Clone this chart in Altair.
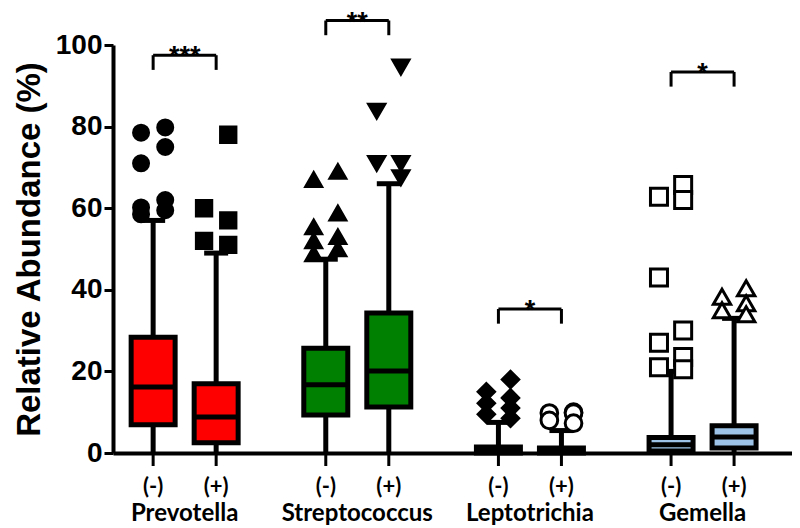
import altair as alt
import pandas as pd

# ---------------- data ----------------
genera = ["Prevotella", "Streptococcus", "Leptotrichia", "Gemella"]
statuses = ["(-)", "(+)"]

# box order: Prevotella(-), Prevotella(+), Streptococcus(-), Streptococcus(+),
#            Leptotrichia(-), Leptotrichia(+), Gemella(-), Gemella(+)
box_q1 = [6.9, 2.5, 9.3, 11.3, 0.0, 0.0, 0.5, 1.2]
box_median = [16.2, 8.8, 16.7, 20.1, 0.3, 0.2, 2.0, 3.9]
box_q3 = [28.4, 17.0, 25.7, 34.3, 1.5, 1.2, 3.8, 6.7]
whisker_low = [0.0, 0.0, 0.0, 0.0, 0.0, 0.0, 0.0, 0.0]
whisker_high = [57.0, 49.0, 47.5, 66.0, 7.5, 5.5, 20.0, 33.0]

out_prevotella_neg = [79.8, 78.5, 75.0, 71.0, 62.0, 60.2, 59.5, 58.5]
out_prevotella_pos = [78.0, 60.0, 57.0, 52.0, 51.0]
out_streptococcus_neg = [69.0, 67.0, 58.8, 55.4, 53.0, 52.0, 50.0, 48.8]
out_streptococcus_pos = [94.6, 83.8, 71.0, 71.0, 67.5]
out_leptotrichia_neg = [18.0, 15.0, 13.5, 12.2, 11.0, 9.5, 8.5]
out_leptotrichia_pos = [10.0, 9.8, 9.8, 8.0, 7.3]
out_gemella_neg = [65.7, 62.8, 62.0, 43.0, 30.0, 27.0, 23.5, 21.0, 20.5]
out_gemella_pos = [40.4, 38.3, 36.7, 35.0, 34.0]

sig_labels = ["***", "**", "*", "*"]
sig_height = [97.5, 106.0, 35.3, 93.4]

# ---------------- styles / layout constants ----------------
genus_colors = ["#FF0000", "#008000", "#000000", "#9DC3E6"]
SUB = 0.1825      # half distance between (-) and (+) boxes, in group units
HALF = 0.1274     # half box width
CAP = 0.0695      # half whisker-cap width
JIT = 0.07        # horizontal spread of outliers
LEG = 3.6         # bracket leg length (y units)

grp_ids = [f"{g} {s}" for g in genera for s in statuses]
grp_shapes = ["circle", "square", "triangle-up", "triangle-down",
              "diamond", "circle", "square", "triangle-up"]
grp_fills = ["black", "black", "black", "black", "black", "white", "white", "white"]
grp_sizes = [225, 300, 330, 330, 340, 175, 300, 330]

# ---------------- tables ----------------
rows = []
for i, gid in enumerate(grp_ids):
    g, s = genera[i // 2], statuses[i % 2]
    gi = i // 2
    side = -1 if s == "(-)" else 1
    xc = gi + side * SUB
    rows.append(dict(genus=g, status=s, grp=gid, xc=xc,
                     xl=xc - HALF, xr=xc + HALF, cl=xc - CAP, cr=xc + CAP,
                     q1=box_q1[i], median=box_median[i], q3=box_q3[i],
                     lo=whisker_low[i], hi=whisker_high[i]))
boxes = pd.DataFrame(rows)

out_lists = [out_prevotella_neg, out_prevotella_pos, out_streptococcus_neg,
             out_streptococcus_pos, out_leptotrichia_neg, out_leptotrichia_pos,
             out_gemella_neg, out_gemella_pos]
orows = []
for i, vals in enumerate(out_lists):
    xc = boxes.loc[i, "xc"]
    for k, v in enumerate(sorted(vals, reverse=True)):
        orows.append(dict(grp=grp_ids[i], value=v,
                          xo=xc + (JIT if k % 2 == 0 else -JIT)))
outliers = pd.DataFrame(orows)

brows = []
for gi, g in enumerate(genera):
    brows.append(dict(genus=g, gx=gi, xm=gi - SUB, xp=gi + SUB,
                      top=sig_height[gi], leg=sig_height[gi] - LEG,
                      label=sig_labels[gi]))
brackets = pd.DataFrame(brows)

# ---------------- scales / axes ----------------
xscale = alt.Scale(domain=[-0.415, 3.518], nice=False, zero=False)
yscale = alt.Scale(domain=[0, 100], nice=False)
xaxis = alt.Axis(labels=False, ticks=False, title=None, domainWidth=4,
                 domainColor="black", grid=False)
yaxis = alt.Axis(values=[0, 20, 40, 60, 80, 100], title="Relative Abundance (%)",
                 labelFont="Liberation Sans", labelFontWeight="bold",
                 labelFontSize=28, labelColor="black", labelPadding=2,
                 tickSize=9, tickWidth=3, tickColor="black",
                 domainWidth=4, domainColor="black", grid=False,
                 titleFont="Liberation Sans", titleFontSize=33,
                 titleFontWeight="bold", titleColor="black", titlePadding=9)


def X(field):
    return alt.X(field, type="quantitative", scale=xscale, axis=xaxis)


def Y(field):
    return alt.Y(field, type="quantitative", scale=yscale, axis=yaxis)


bb = alt.Chart(boxes)

whiskers = bb.mark_rule(color="black", strokeWidth=5).encode(
    x=X("xc"), y=Y("lo"), y2="hi")
caps = bb.mark_rule(color="black", strokeWidth=5).encode(
    x=X("cl"), x2="cr", y=Y("hi"))
rects = bb.mark_rect(stroke="black", strokeWidth=5).encode(
    x=X("xl"), x2="xr", y=Y("q1"), y2="q3",
    fill=alt.Fill("genus:N", scale=alt.Scale(domain=genera, range=genus_colors),
                  legend=None))
medians = bb.mark_rule(color="black", strokeWidth=5).encode(
    x=X("xl"), x2="xr", y=Y("median"))
xticks = bb.mark_rule(color="black", strokeWidth=3).encode(
    x=X("xc"), y=alt.value(408), y2=alt.value(421))
status_text = bb.mark_text(font="Lato", fontWeight="bold", fontSize=22,
                           baseline="middle", color="black").encode(
    x=X("xc"), y=alt.value(442), text="status:N")

points = alt.Chart(outliers).mark_point(filled=True, strokeWidth=3, opacity=1).encode(
    x=X("xo"), y=Y("value"),
    shape=alt.Shape("grp:N", scale=alt.Scale(domain=grp_ids, range=grp_shapes), legend=None),
    fill=alt.Fill("grp:N", scale=alt.Scale(domain=grp_ids, range=grp_fills), legend=None),
    size=alt.Size("grp:N", scale=alt.Scale(domain=grp_ids, range=grp_sizes), legend=None),
    stroke=alt.value("black"))

br = alt.Chart(brackets)
genus_text = br.mark_text(font="Lato", fontWeight="bold", fontSize=24,
                          baseline="alphabetic", color="black").encode(
    x=X("gx"), y=alt.value(476), text="genus:N")
br_top = br.mark_rule(color="black", strokeWidth=3).encode(
    x=X("xm"), x2="xp", y=Y("top"))
br_left = br.mark_rule(color="black", strokeWidth=3).encode(
    x=X("xm"), y=Y("top"), y2="leg")
br_right = br.mark_rule(color="black", strokeWidth=3).encode(
    x=X("xp"), y=Y("top"), y2="leg")
stars = br.mark_text(font="Liberation Sans", fontWeight="bold", fontSize=27,
                     baseline="alphabetic", dy=10, color="black").encode(
    x=X("gx"), y=Y("top"), text="label:N")

chart = alt.layer(
    whiskers, caps, rects, medians, points, xticks, status_text, genus_text,
    br_top, br_left, br_right, stars
).resolve_scale(fill="independent").properties(
    width=679, height=408,
    padding={"left": 105, "top": 37, "right": 0, "bottom": 75},
    autosize=alt.AutoSizeParams(type="none"),
).configure_view(stroke=None).configure_axis(grid=False)

chart.save("out.html", embed_options={"renderer": "svg", "actions": False})
